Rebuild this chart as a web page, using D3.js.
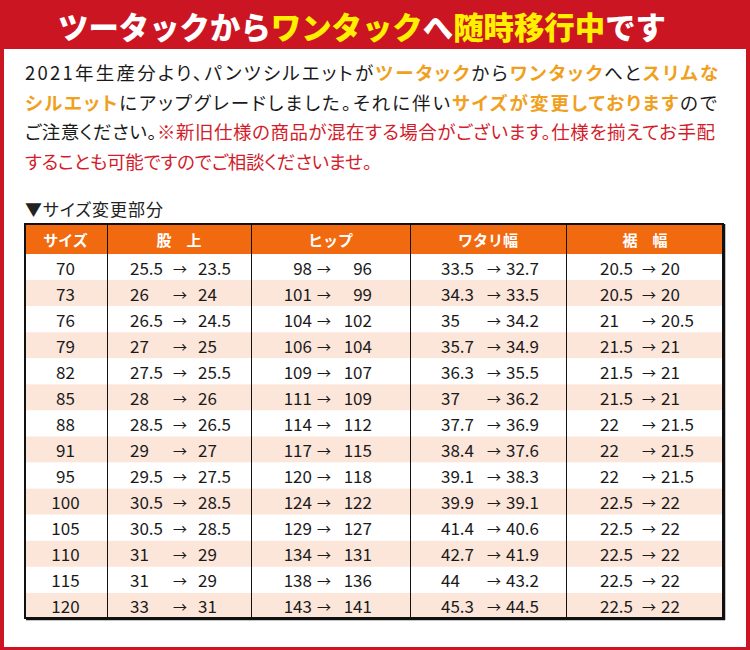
<!DOCTYPE html>
<html><head><meta charset="utf-8">
<script src="https://cdn.jsdelivr.net/npm/d3@7"></script>
<style>
body{margin:0;background:#fff;}
text{font-family:"Noto Sans CJK JP","Noto Sans",sans-serif;}
.p{font-feature-settings:"palt";}
</style></head><body>
<svg id="c" width="750" height="650"></svg>
<script>
// ---- data ----
const titleParts = [["ツータックから","w"],["ワンタック","y"],["へ","w"],["随時移行中","y"],["です","w"]];
const introLines = [
  [["2021年生産分より、パンツシルエットが","k"],["ツータック","o"],["から","k"],["ワンタック","o"],["へと","k"],["スリムな","o"]],
  [["シルエット","o"],["にアップグレードしました。それに伴い","k"],["サイズが変更しております","o"],["ので","k"]],
  [["ご注意ください。","k"],["※新旧仕様の商品が混在する場合がございます。仕様を揃えてお手配","r"]],
  [["することも可能ですのでご相談くださいませ。","r"]]
];
const subTitle = "▼サイズ変更部分";
const headers = ["サイズ","股　上","ヒップ","ワタリ幅","裾　幅"];
const sizes = ["70","73","76","79","82","85","88","91","95","100","105","110","115","120"];
const riseOld = ["25.5","26","26.5","27","27.5","28","28.5","29","29.5","30.5","30.5","31","31","33"];
const riseNew = ["23.5","24","24.5","25","25.5","26","26.5","27","27.5","28.5","28.5","29","29","31"];
const hipOld = ["98","101","104","106","109","111","114","117","120","124","129","134","138","143"];
const hipNew = ["96","99","102","104","107","109","112","115","118","122","127","131","136","141"];
const thighOld = ["33.5","34.3","35","35.7","36.3","37","37.7","38.4","39.1","39.9","41.4","42.7","44","45.3"];
const thighNew = ["32.7","33.5","34.2","34.9","35.5","36.2","36.9","37.6","38.3","39.1","40.6","41.9","43.2","44.5"];
const hemOld = ["20.5","20.5","21","21.5","21.5","21.5","22","22","22","22.5","22.5","22.5","22.5","22.5"];
const hemNew = ["20","20","20.5","21","21","21","21.5","21.5","21.5","22","22","22","22","22"];

// ---- layout / style ----
const RED="#cc1522", ORANGE_H="#f26a10", STRIPE="#fce6da";
const txtColor = {w:"#ffffff", y:"#fff000", k:"#1a1a1a", o:"#f0a01e", r:"#d21e2c"};
const svg = d3.select("#c");
svg.append("rect").attr("width",750).attr("height",650).attr("fill",RED);
svg.append("rect").attr("x",4).attr("y",49).attr("width",742).attr("height",598).attr("fill","#fff");

// title
const t = svg.append("text").attr("x",362).attr("y",26).attr("text-anchor","middle").attr("dominant-baseline","central")
  .attr("font-size",30.4).attr("font-weight",900);
t.selectAll("tspan").data(titleParts).join("tspan").text(d=>d[0]).attr("fill",d=>txtColor[d[1]]);

// intro paragraph
const lineY = d3.scaleLinear().domain([0,1]).range([72,101.5]);
const lineW = [693,692,690,347];
introLines.forEach((ln,i)=>{
  const tx = svg.append("text").attr("class","p").attr("x",25).attr("y",lineY(i))
    .attr("dominant-baseline","central").attr("font-size",18.5)
    .attr("textLength",lineW[i]).attr("lengthAdjust","spacing");
  tx.selectAll("tspan").data(ln).join("tspan").text(d=>d[0])
    .attr("fill",d=>txtColor[d[1]]).attr("font-weight",d=>d[1]==="o"?700:400);
});

svg.append("text").attr("class","p").attr("x",25).attr("y",208).attr("dominant-baseline","central")
  .attr("font-size",17).attr("fill","#222").attr("textLength",138).attr("lengthAdjust","spacing").text(subTitle);

// table
const colKeys = ["size","rise","hip","thigh","hem"];
const colX = d3.scaleOrdinal().domain(colKeys).range([24,107,251,410,566]);
const colEnd = d3.scaleOrdinal().domain(colKeys).range([107,251,410,566,724]);
const tTop = 223, headH = 31, tBottom = 619;
const y = d3.scaleBand().domain(sizes).range([tTop+headH,tBottom]);

svg.append("rect").attr("x",24).attr("y",tTop).attr("width",700).attr("height",headH).attr("fill",ORANGE_H);
svg.selectAll("rect.row").data(sizes).join("rect").attr("class","row")
  .attr("x",24).attr("y",d=>y(d)).attr("width",700).attr("height",y.bandwidth())
  .attr("fill",(d,i)=>i%2?STRIPE:"#fff");

svg.selectAll("text.hd").data(headers).join("text").attr("class","hd")
  .attr("x",(d,i)=>(colX(colKeys[i])+colEnd(colKeys[i]))/2).attr("y",tTop+headH/2+0.5)
  .attr("text-anchor","middle").attr("dominant-baseline","central")
  .attr("font-size",15).attr("font-weight",700).attr("fill","#fff").text(d=>d);

svg.selectAll("text.sz").data(sizes).join("text").attr("class","sz")
  .attr("x",(colX("size")+colEnd("size"))/2).attr("y",d=>y(d)+y.bandwidth()/2)
  .attr("text-anchor","middle").attr("dominant-baseline","central")
  .attr("font-size",17).attr("fill","#1a1a1a").text(d=>d);

const pairCols = [
  {key:"rise", o:riseOld, n:riseNew, lx:130, la:"start", ax:180, rx:198, ra:"start"},
  {key:"hip", o:hipOld, n:hipNew, lx:312, la:"end", ax:324, rx:372, ra:"end"},
  {key:"thigh", o:thighOld, n:thighNew, lx:441, la:"start", ax:494, rx:506, ra:"start"},
  {key:"hem", o:hemOld, n:hemNew, lx:600, la:"start", ax:649, rx:661, ra:"start"}
];
pairCols.forEach(c=>{
  const g = svg.append("g");
  const cy = d=>y(d)+y.bandwidth()/2;
  g.selectAll("text.o").data(sizes).join("text").attr("class","o")
    .attr("x",c.lx).attr("y",cy).attr("text-anchor",c.la).attr("dominant-baseline","central")
    .attr("font-size",17).attr("fill","#1a1a1a").text((d,i)=>c.o[i]);
  g.selectAll("text.a").data(sizes).join("text").attr("class","a")
    .attr("x",c.ax).attr("y",d=>cy(d)+0.5).attr("text-anchor","middle").attr("dominant-baseline","central")
    .attr("font-size",14).attr("fill","#1a1a1a").text("→");
  g.selectAll("text.n").data(sizes).join("text").attr("class","n")
    .attr("x",c.rx).attr("y",cy).attr("text-anchor",c.ra).attr("dominant-baseline","central")
    .attr("font-size",17).attr("fill","#1a1a1a").text((d,i)=>c.n[i]);
});

// grid lines
svg.selectAll("line.v").data(colKeys.slice(1)).join("line").attr("class","v")
  .attr("x1",d=>colX(d)+0.5).attr("x2",d=>colX(d)+0.5).attr("y1",tTop).attr("y2",tBottom)
  .attr("stroke","#111").attr("stroke-width",1);
svg.append("rect").attr("x",25).attr("y",tTop+1).attr("width",698).attr("height",tBottom-tTop-2)
  .attr("fill","none").attr("stroke","#111").attr("stroke-width",2);
svg.append("line").attr("x1",26).attr("x2",725).attr("y1",tBottom+0.5).attr("y2",tBottom+0.5).attr("stroke","#111").attr("stroke-width",1.5);
svg.append("line").attr("x1",724.5).attr("x2",724.5).attr("y1",tTop+1).attr("y2",tBottom+1).attr("stroke","#111").attr("stroke-width",1.5);
</script></body></html>
